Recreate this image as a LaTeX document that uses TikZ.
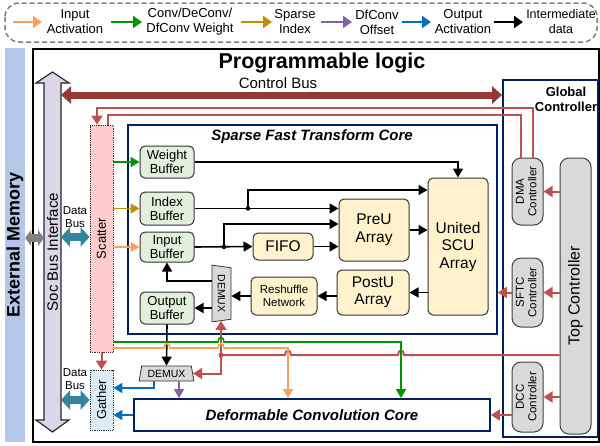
\documentclass[tikz,border=0pt]{standalone}
\usepackage{fontspec}
\setmainfont{Liberation Sans}
\usepackage{graphicx}
\usetikzlibrary{positioning}
\usetikzlibrary{arrows.meta}
\usetikzlibrary{shapes.geometric}

\definecolor{inact}{RGB}{247,162,92}
\definecolor{wgt}{RGB}{0,150,0}
\definecolor{sidx}{RGB}{191,144,0}
\definecolor{offs}{RGB}{128,100,162}
\definecolor{outact}{RGB}{0,112,192}
\definecolor{ctrl}{RGB}{192,80,77}
\definecolor{cbus}{RGB}{150,56,52}
\definecolor{dbus}{RGB}{49,133,156}
\definecolor{navy}{RGB}{0,32,96}
\definecolor{extmem}{RGB}{180,199,231}
\definecolor{socbus}{RGB}{220,215,232}
\definecolor{scat}{RGB}{255,204,204}
\definecolor{gath}{RGB}{221,235,247}
\definecolor{bufgreen}{RGB}{226,239,218}
\definecolor{unit}{RGB}{255,242,204}
\definecolor{ctrlgray}{RGB}{217,217,217}

\newcommand{\rotlabel}[1]{\rotatebox{90}{\begin{tabular}{@{}c@{}}#1\end{tabular}}}

\tikzset{
	buffer/.style = {draw = black!80, fill = bufgreen, rounded corners = 5pt, line width = 1pt, align = center, font = \fontsize{13}{14}\selectfont, inner sep = 0pt, minimum width = 54pt},
	unitbox/.style = {draw = black!80, fill = unit, rounded corners = 5pt, line width = 1pt, align = center, font = \fontsize{15.5}{17.5}\selectfont, inner sep = 0pt},
	ctrlbox/.style = {draw = black!75, fill = ctrlgray, rounded corners = 9pt, line width = 1pt, inner sep = 0pt, minimum width = 31pt, font = \fontsize{11.5}{12.5}\selectfont},
	corebox/.style = {draw = navy, line width = 1.8pt, inner sep = 0pt},
	demux/.style = {trapezium, trapezium angle = 75, trapezium stretches = true, draw = black!80, fill = ctrlgray, line width = 0.8pt, inner sep = 0pt, font = \fontsize{10.5}{11}\selectfont},
	legtext/.style = {align = center, font = \fontsize{13}{15}\selectfont},
	flow/.style = {black, line width = 1.6pt, -{Triangle[length = 9pt, width = 10pt]}},
	feed/.style = {line width = 1.6pt, -{Triangle[length = 9pt, width = 10pt]}},
	ctrlline/.style = {ctrl, line width = 2pt},
	ctrlarrow/.style = {ctrl, line width = 2pt, -{Triangle[length = 9pt, width = 11pt]}},
	legarrow/.style = {line width = 2.5pt, -{Triangle[length = 9pt, width = 12pt]}},
	bigbus/.style = {line width = #1, {Triangle[length = 9pt, width = 19pt]}-{Triangle[length = 9pt, width = 19pt]}},
}

\begin{document}
\begin{tikzpicture}[x = 1pt, y = -1pt]
	\useasboundingbox (0, 0) rectangle (600, 445);

	\draw [black!50, line width = 1.5pt, dash pattern = on 5pt off 3pt, rounded corners = 14pt] (5, 3) rectangle (597, 42);
	\draw [legarrow, inact] (13, 22) -- (42, 22);
	\node [legtext] (lgin) at (75, 22) {Input\\Activation};
	\draw [legarrow, wgt] (111, 22) -- (142, 22);
	\node [legtext] (lgwgt) at (190, 22) {Conv/DeConv/\\DfConv Weight};
	\draw [legarrow, sidx] (241, 22) -- (272, 22);
	\node [legtext] (lgidx) at (295, 22) {Sparse\\Index};
	\draw [legarrow, offs] (321, 22) -- (352, 22);
	\node [legtext] (lgoff) at (377, 22) {DfConv\\Offset};
	\draw [legarrow, outact] (402, 22) -- (431, 22);
	\node [legtext] (lgout) at (463, 22) {Output\\Activation};
	\draw [legarrow, black] (494, 22) -- (523, 22);
	\node [legtext, font = \fontsize{12.5}{15}\selectfont] (lgmid) at (561, 22) {Intermediate\\data};

	\node [fill = extmem, minimum width = 20pt, minimum height = 394pt, inner sep = 0pt, font = \bfseries\fontsize{18}{20}\selectfont] (extmem) at (15, 245) {\rotatebox{90}{External Memory}};
	\draw [line width = 2.5pt] (33, 49) rectangle (599, 442);
	\node [font = \bfseries\fontsize{21.5}{24}\selectfont] (pltitle) at (322, 63) {Programmable logic};
	\node [font = \fontsize{15}{17}\selectfont] (cbuslbl) at (278, 83) {Control Bus};

	\draw [black!85, fill = socbus, line width = 1.2pt] (44, 83) -- (36, 83) -- (52.5, 72) -- (69, 83) -- (61, 83) -- (61, 420) -- (69, 420) -- (52.5, 432) -- (36, 420) -- (44, 420) -- cycle;
	\node [rotate = 90, font = \fontsize{15}{17}\selectfont] (socbus) at (52.5, 252) {Soc Bus Interface};
	\coordinate (socleft) at (44, 252);
	\coordinate (socright) at (61, 252);

	\node [draw = black!80, densely dotted, line width = 0.8pt, fill = scat, minimum width = 23pt, minimum height = 227pt, inner sep = 0pt, font = \fontsize{13}{14}\selectfont] (scatter) at (101.5, 238.5) {\rotatebox{90}{Scatter}};
	\node [draw = black!80, densely dotted, line width = 0.8pt, fill = gath, minimum width = 23pt, minimum height = 60pt, inner sep = 0pt, font = \fontsize{13}{14}\selectfont] (gather) at (101.5, 400) {\rotatebox{90}{Gather}};
	\node [align = center, font = \fontsize{11.5}{13.5}\selectfont] (dbuslbla) at (75, 217) {Data\\Bus};
	\node [align = center, font = \fontsize{11.5}{13.5}\selectfont] (dbuslblb) at (75, 379) {Data\\Bus};

	\draw [bigbus = 8pt, black!50, {Triangle[length = 6pt, width = 16pt]}-{Triangle[length = 6pt, width = 16pt]}] (extmem.east |- 0, 238) -- (socleft |- 0, 238);
	\draw [bigbus = 8pt, dbus] (scatter.west |- 0, 237) -- (socright |- 0, 237);
	\draw [bigbus = 8pt, dbus] (gather.west |- 0, 400) -- (socright |- 0, 400);

	\node [corebox, minimum width = 369pt, minimum height = 209pt] (sftcore) at (312.5, 229.5) {};
	\node [font = \bfseries\itshape\fontsize{15}{17}\selectfont] (sftctitle) at (312, 137) {Sparse Fast Transform Core};
	\node [corebox, minimum width = 356pt, minimum height = 32pt, font = \bfseries\itshape\fontsize{15}{17}\selectfont] (dcore) at (312, 415) {Deformable Convolution Core};
	\node [corebox, minimum width = 95pt, minimum height = 357pt] (gctrl) at (550.5, 258.5) {};
	\node [font = \bfseries\fontsize{13}{15}\selectfont, align = center] (gctrllbl) at (566, 99.5) {Global\\Controller};

	\draw [bigbus = 7pt, cbus, {Triangle[length = 10pt, width = 17pt]}-{Triangle[length = 10pt, width = 17pt]}] (socright |- 0, 95) -- (gctrl.west |- 0, 95);

	\node [buffer, minimum height = 32pt] (wbuf) at (167, 162) {Weight\\Buffer};
	\node [buffer, minimum height = 33pt] (ibuf) at (167, 208.5) {Index\\Buffer};
	\node [buffer, minimum height = 30pt] (inbuf) at (167, 247) {Input\\Buffer};
	\node [buffer, minimum height = 32pt] (obuf) at (167, 308) {Output\\Buffer};
	\node [unitbox, minimum width = 60pt, minimum height = 27pt] (fifo) at (283, 246.5) {FIFO};
	\node [unitbox, minimum width = 70pt, minimum height = 62pt] (preu) at (374, 230) {PreU\\Array};
	\node [unitbox, minimum width = 60pt, minimum height = 137pt] (scu) at (458, 246.5) {United\\SCU\\Array};
	\node [unitbox, minimum width = 72pt, minimum height = 45pt] (postu) at (373, 292.5) {PostU\\Array};
	\node [unitbox, minimum width = 66pt, minimum height = 38pt, font = \fontsize{11.5}{13}\selectfont] (reshuf) at (284, 296) {Reshuffle\\Network};
	\node [demux, rotate = -90, minimum width = 57pt, minimum height = 19pt] (dmxa) at (221.5, 293.5) {DEMUX};
	\node [demux, minimum width = 55pt, minimum height = 15pt] (dmxb) at (166.5, 373.5) {DEMUX};

	\node [ctrlbox, minimum height = 67pt] (dma) at (527.5, 191.5) {\rotlabel{DMA\\Controller}};
	\node [ctrlbox, minimum height = 69pt] (sftcc) at (527.5, 292.5) {\rotlabel{SFTC\\Controller}};
	\node [ctrlbox, minimum height = 70pt] (dccc) at (527.5, 397) {\rotlabel{DCC\\Controller}};
	\node [ctrlbox, minimum height = 276pt, font = \fontsize{16}{18}\selectfont] (topc) at (575.5, 296) {\rotatebox{90}{Top Controller}};

	\draw [feed, wgt] (scatter.east |- wbuf) -- (wbuf.west);
	\draw [feed, sidx] (scatter.east |- ibuf) -- (ibuf.west);
	\draw [feed, inact] (scatter.east |- inbuf) -- (inbuf.west);

	\draw [flow] (wbuf.east) -| (scu.north);
	\draw [flow] (ibuf.east) -- (ibuf.east -| preu.west);
	\coordinate (idxsplit) at (248, 208.5);
	\draw [flow] (idxsplit) |- (scu.west |- 0, 190);
	\fill (idxsplit) circle (2.2pt);
	\draw [flow] (inbuf.east) -- (fifo.west);
	\coordinate (insplit) at (224, 247);
	\draw [flow] (insplit) |- (preu.west |- 0, 224);
	\fill (insplit) circle (2.2pt);
	\draw [flow] (fifo.east) -- (fifo.east -| preu.west);
	\draw [flow] (preu.east) -- (preu.east -| scu.west);
	\draw [flow] (scu.west |- postu) -- (postu.east);
	\draw [flow] (postu.west |- reshuf) -- (reshuf.east);
	\draw [flow] (reshuf.west) -- (reshuf.west -| dmxa.north);
	\draw [flow] (dmxa.south |- 0, 281) -| (inbuf.south);
	\draw [flow] (dmxa.south |- obuf) -- (obuf.east);

	\draw [ctrlline, -{Triangle[length = 9pt, width = 11pt]}] ([xshift = 5.5pt]dma.north) -- ++(0, -50) -| ([xshift = -4.5pt]scatter.north);
	\draw [ctrlline] ([xshift = -6.5pt]dma.north) -- ++(0, -43) -| ([xshift = 6.5pt]scatter.north);
	\draw [ctrlarrow] (scatter.south) -- (gather.north);
	\draw [ctrlarrow] (topc.west |- dma) -- (dma.east);
	\draw [ctrlarrow] (topc.west |- sftcc) -- (sftcc.east);
	\draw [ctrlarrow] (topc.west |- 0, 397) -- (dccc.east |- 0, 397);
	\draw [ctrlarrow] (sftcc.west) -- (sftcc.west -| sftcore.east);
	\draw [ctrlarrow] (dccc.west |- dcore) -- (dcore.east);

	\coordinate (rsplit) at (221, 355);
	\draw [ctrlline] (topc.west |- rsplit) -- (404, 355) .. controls (404, 349) and (398, 349) .. (398, 355) -- (291, 355) .. controls (291, 349) and (285, 349) .. (285, 355) -- (rsplit);
	\draw [ctrlarrow] (rsplit) -- (rsplit |- dmxa.east);
	\draw [ctrlarrow] (rsplit) |- (dmxb.east);
	\fill [ctrl] (rsplit) circle (2.5pt);

	\draw [flow] (obuf.south) -- (dmxb.north);

	\coordinate (wturn) at (401, 342);
	\draw [feed, wgt] (scatter.east |- wturn) -- (218, 342) .. controls (218, 336) and (224, 336) .. (224, 342) -- (wturn) -- (wturn |- dcore.north);
	\coordinate (iturn) at (288, 348);
	\draw [feed, inact] (scatter.east |- iturn) -- (164, 348) .. controls (164, 342) and (170, 342) .. (170, 348) -- (218, 348) .. controls (218, 342) and (224, 342) .. (224, 348) -- (iturn) -- (iturn |- dcore.north);

	\draw [feed, outact] ([xshift = -12.5pt]dmxb.south) |- (gather.east |- 0, 388);
	\draw [feed, offs] ([xshift = 12.5pt]dmxb.south) -- ([xshift = 12.5pt]dmxb.south |- dcore.north);
	\draw [feed, outact] (dcore.west) -- (dcore.west -| gather.east);
\end{tikzpicture}
\end{document}
